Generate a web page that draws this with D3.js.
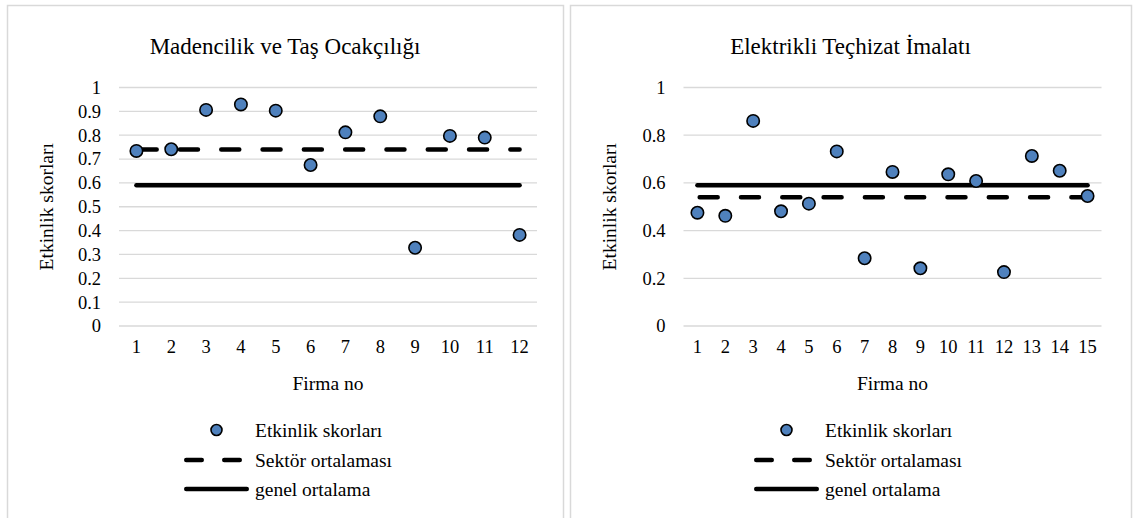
<!DOCTYPE html>
<html>
<head>
<meta charset="utf-8">
<script src="https://cdn.jsdelivr.net/npm/d3@7/dist/d3.min.js"></script>
<style>
  html, body { margin: 0; padding: 0; background: #fff; }
  svg { display: block; }
  svg text { font-family: "Liberation Serif", "Times New Roman", serif !important; fill: #000; }
</style>
</head>
<body>
<svg id="chart" width="1134" height="518"></svg>
<script>
// ---- Data ----
const madencilikTitle = "Madencilik ve Taş Ocakçılığı";
const madencilikFirms = ["1","2","3","4","5","6","7","8","9","10","11","12"];
const madencilikScores = [0.734, 0.741, 0.906, 0.929, 0.903, 0.675, 0.812, 0.879, 0.328, 0.797, 0.790, 0.382];
const madencilikSector = 0.74;
const madencilikTicks = [0, 0.1, 0.2, 0.3, 0.4, 0.5, 0.6, 0.7, 0.8, 0.9, 1];

const elektrikTitle = "Elektrikli Teçhizat İmalatı";
const elektrikFirms = ["1","2","3","4","5","6","7","8","9","10","11","12","13","14","15"];
const elektrikScores = [0.475, 0.462, 0.860, 0.481, 0.513, 0.732, 0.284, 0.646, 0.242, 0.636, 0.608, 0.226, 0.713, 0.651, 0.545];
const elektrikSector = 0.54;
const elektrikTicks = [0, 0.2, 0.4, 0.6, 0.8, 1];

const genelOrtalama = 0.59;
const yAxisTitle = "Etkinlik skorları";
const xAxisTitle = "Firma no";
const legendLabels = ["Etkinlik skorları", "Sektör ortalaması", "genel ortalama"];

// ---- Drawing ----
const svg = d3.select("#chart");
const FONT = '"Liberation Serif", "Times New Roman", serif';
const markerFill = "#4f81bd";
const lineW = 4.5;

function drawPanel(p) {
  const g = svg.append("g").attr("font-family", FONT);
  g.append("rect")
    .attr("x", p.px + 0.5).attr("y", 5.5)
    .attr("width", p.pw).attr("height", 530)
    .attr("fill", "#fff").attr("stroke", "#d9d9d9").attr("stroke-width", 1.5);

  const x = d3.scaleBand().domain(p.firms).range([p.left, p.left + 418]).padding(0);
  const y = d3.scaleLinear().domain([0, 1]).range([326, 87.5]);
  const cx = f => x(f) + x.bandwidth() / 2;

  g.append("text")
    .attr("x", p.px + p.pw / 2).attr("y", 54)
    .attr("text-anchor", "middle").style("font-size", "23px").style("font-family", FONT)
    .text(p.title);

  g.append("g").selectAll("line").data(p.ticks).join("line")
    .attr("x1", p.left).attr("x2", p.left + 418)
    .attr("y1", d => y(d)).attr("y2", d => y(d))
    .attr("stroke", "#d9d9d9").attr("stroke-width", 1.3);

  const yAxis = d3.axisLeft(y).tickValues(p.ticks)
    .tickFormat(d => String(+d.toFixed(1))).tickSize(0).tickPadding(18);
  const ya = g.append("g").attr("transform", `translate(${p.left},0)`).call(yAxis)
    .attr("font-family", FONT);
  ya.select(".domain").remove();
  ya.selectAll("text").style("font-size", "18.5px").style("font-family", FONT).attr("fill", "#000");

  const xAxis = d3.axisBottom(x).tickSize(0).tickPadding(0);
  const xa = g.append("g").attr("transform", `translate(0,340)`).call(xAxis)
    .attr("font-family", FONT);
  xa.select(".domain").remove();
  xa.selectAll("text").style("font-size", "18.5px").style("font-family", FONT).attr("fill", "#000");

  g.append("text")
    .attr("transform", `translate(${p.px + 40},${(326 + 87.5) / 2}) rotate(-90)`)
    .attr("text-anchor", "middle").attr("dy", "0.32em")
    .style("font-size", "19.5px").style("font-family", FONT)
    .text(yAxisTitle);
  g.append("text")
    .attr("x", p.left + 209).attr("y", 390)
    .attr("text-anchor", "middle").style("font-size", "19.5px").style("font-family", FONT)
    .text(xAxisTitle);

  const first = p.firms[0], last = p.firms[p.firms.length - 1];
  g.append("line")
    .attr("x1", cx(first)).attr("x2", cx(last))
    .attr("y1", y(genelOrtalama)).attr("y2", y(genelOrtalama))
    .attr("stroke", "#000").attr("stroke-width", lineW).attr("stroke-linecap", "round");
  g.append("line")
    .attr("x1", cx(first) + 2.25).attr("x2", cx(last))
    .attr("y1", y(p.sector)).attr("y2", y(p.sector))
    .attr("stroke", "#000").attr("stroke-width", lineW).attr("stroke-linecap", "round")
    .attr("stroke-dasharray", "18,23.3");

  g.append("g").selectAll("circle").data(p.scores).join("circle")
    .attr("cx", (d, i) => cx(p.firms[i])).attr("cy", d => y(d)).attr("r", 6.2)
    .attr("fill", markerFill).attr("stroke", "#000").attr("stroke-width", 1.6);

  const lx = p.legendX;
  const rows = [430, 460, 489];
  g.append("circle").attr("cx", lx + 32.5).attr("cy", rows[0]).attr("r", 5.5)
    .attr("fill", markerFill).attr("stroke", "#000").attr("stroke-width", 1.6);
  g.append("line").attr("x1", lx + 2.25).attr("x2", lx + 62.75)
    .attr("y1", rows[1]).attr("y2", rows[1])
    .attr("stroke", "#000").attr("stroke-width", lineW).attr("stroke-linecap", "round")
    .attr("stroke-dasharray", "15.5,22.5");
  g.append("line").attr("x1", lx + 2.25).attr("x2", lx + 62.75)
    .attr("y1", rows[2]).attr("y2", rows[2])
    .attr("stroke", "#000").attr("stroke-width", lineW).attr("stroke-linecap", "round");
  g.append("g").selectAll("text").data(legendLabels).join("text")
    .attr("x", lx + 71).attr("y", (d, i) => rows[i] + 6.5)
    .style("font-size", "19.5px").style("font-family", FONT).text(d => d);
}

drawPanel({ px: 7, pw: 556, left: 119, title: madencilikTitle, firms: madencilikFirms,
  scores: madencilikScores, sector: madencilikSector, ticks: madencilikTicks, legendX: 184 });
drawPanel({ px: 570, pw: 561, left: 683.5, title: elektrikTitle, firms: elektrikFirms,
  scores: elektrikScores, sector: elektrikSector, ticks: elektrikTicks, legendX: 754 });
</script>
</body>
</html>
